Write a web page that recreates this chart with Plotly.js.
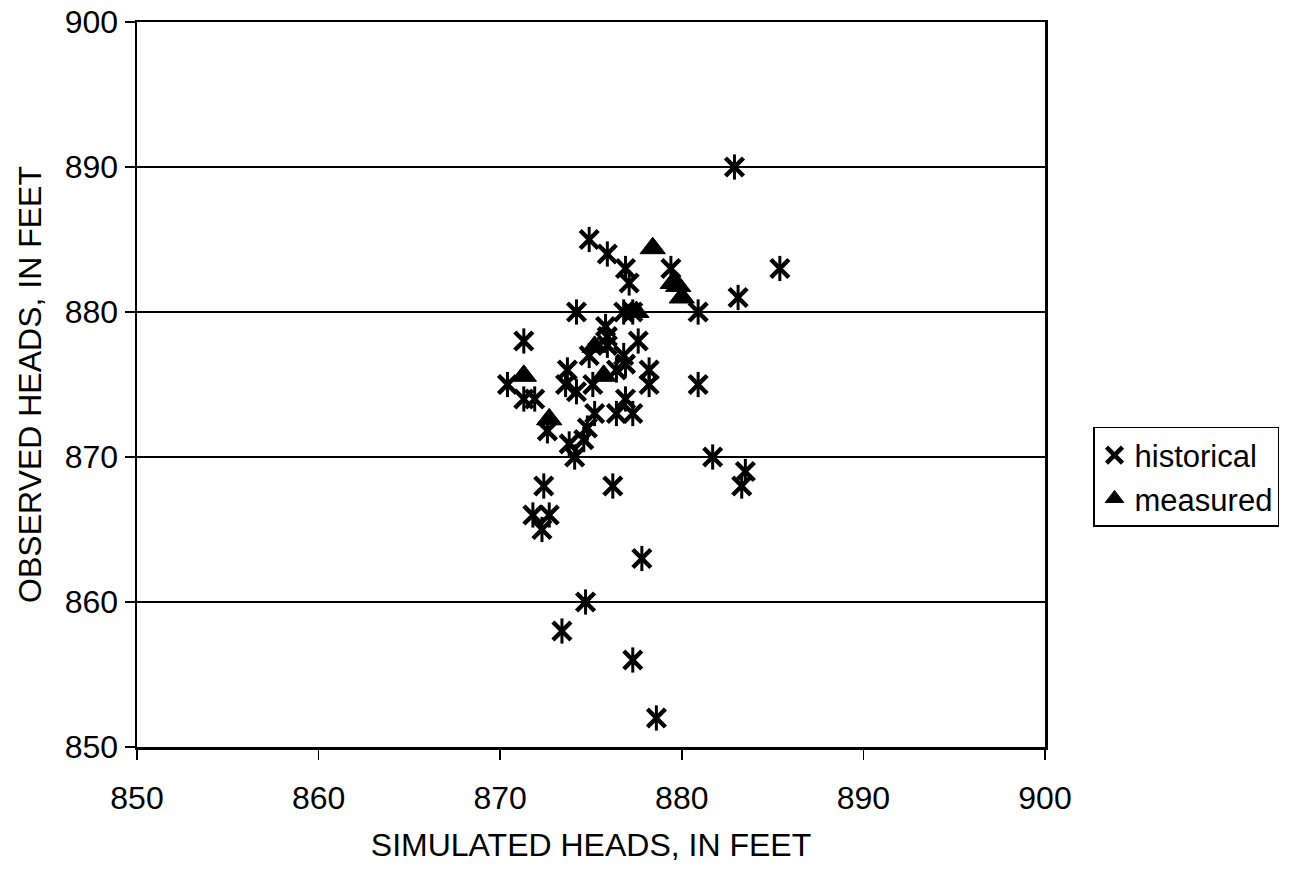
<!DOCTYPE html>
<html><head><meta charset="utf-8">
<script src="https://cdn.plot.ly/plotly-3.0.1.min.js"></script>
<style>body{margin:0;background:#fff}#chart{width:1293px;height:873px}</style>
</head><body><div id="chart"></div>
<script>
const historicalSimulated = [882.9,874.9,875.9,876.9,877.1,879.4,885.4,883.1,880.9,874.2,876.8,877.3,875.8,875.9,871.3,877.6,875.9,874.9,876.8,876.4,876.9,873.7,873.6,874.2,875.1,878.2,878.2,880.9,870.4,871.3,871.9,872.6,875.2,874.8,874.6,873.8,874.1,876.9,876.4,877.3,881.7,883.5,883.3,872.4,876.2,871.8,872.7,872.3,877.8,874.7,873.4,877.3,878.6];
const historicalObserved  = [890,885,884,883,882,883,883,881,880,880,880,880,879,878.3,878,878,877.7,877,877,876,876.4,876,875,874.5,875,876,875,875,875,874,874,871.8,873,872,871.2,870.9,870,874,873,873,870,869,868,868,868,866,866,865,863,860,858,856,852];
const measuredSimulated = [878.4,879.5,879.8,880.0,877.5,875.2,875.7,871.3,872.7];
const measuredObserved  = [884.4,882,881.8,881,880,877.6,875.6,875.6,872.6];
const tickValues = [850,860,870,880,890,900];

const traces = [
  {x: historicalSimulated, y: historicalObserved, mode:'markers', type:'scatter', name:'historical',
   marker:{symbol:'x-thin-open', size:18, color:'#000', line:{width:4.5, color:'#000'}}},
  {x: historicalSimulated, y: historicalObserved, mode:'markers', type:'scatter', showlegend:false, hoverinfo:'skip',
   marker:{symbol:'line-ns-open', size:18, color:'#000', line:{width:3, color:'#000'}}},
  {x: measuredSimulated, y: measuredObserved, mode:'markers', type:'scatter', name:'measured',
   marker:{symbol:'triangle-up', size:22, color:'#000', line:{width:1, color:'#000'}}}
];

const layout = {
  width:1293, height:873,
  margin:{l:137, r:248, t:22, b:126},
  paper_bgcolor:'#fff', plot_bgcolor:'#fff',
  font:{family:'Liberation Sans, Arial, sans-serif', color:'#000', size:32},
  showlegend:true,
  legend:{x:1.0529, y:0.4414, xanchor:'left', yanchor:'top', bordercolor:'#000', borderwidth:1.5,
          bgcolor:'#fff', font:{size:31}, itemwidth:30, tracegroupgap:0},
  xaxis:{range:[850,900], tickvals:tickValues, ticktext:tickValues.map(String),
         showgrid:false, zeroline:false, showline:true, mirror:true, linecolor:'#000', linewidth:2.5,
         ticks:'outside', ticklen:10, tickwidth:1.5, tickcolor:'#000', tickfont:{size:32}, ticklabelstandoff:11,
         title:{text:'SIMULATED HEADS, IN FEET', font:{size:32}, standoff:19}},
  yaxis:{range:[850,900], tickvals:tickValues, ticktext:tickValues.map(String),
         showgrid:true, gridcolor:'#000', gridwidth:2, zeroline:false, showline:true, mirror:true,
         linecolor:'#000', linewidth:2.5, ticks:'outside', ticklen:10, tickwidth:1.5, tickcolor:'#000', tickfont:{size:32},
         title:{text:'OBSERVED HEADS, IN FEET', font:{size:32}, standoff:14}}
};
Plotly.newPlot('chart', traces, layout, {displayModeBar:false, staticPlot:true});
</script></body></html>
